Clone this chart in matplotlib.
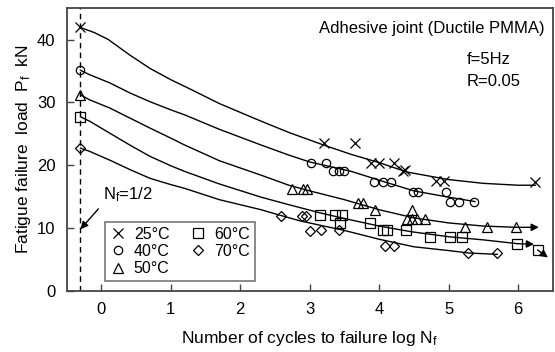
import numpy as np
import matplotlib.pyplot as plt

plt.rcParams['font.family'] = ['Liberation Sans', 'DejaVu Sans']
plt.rcParams['mathtext.default'] = 'regular'

# measured points (log Nf, Pf in kN)
x25 = [-0.30, 3.20, 3.65, 3.88, 4.00, 4.21, 4.34, 4.37, 4.82, 4.94, 6.25]
y25 = [42.0, 23.5, 23.5, 20.3, 20.3, 20.4, 19.0, 19.2, 17.4, 17.4, 17.3]

x40 = [-0.30, 3.02, 3.23, 3.34, 3.42, 3.50, 3.93, 4.05, 4.17, 4.49, 4.56, 4.96, 5.02, 5.15, 5.37]
y40 = [35.1, 20.3, 20.3, 19.0, 19.0, 19.0, 17.3, 17.3, 17.3, 15.8, 15.8, 15.8, 14.2, 14.2, 14.2]

x50 = [-0.30, 2.75, 2.91, 2.96, 3.69, 3.77, 3.94, 4.48, 4.40, 4.48, 4.55, 4.66, 5.24, 5.55, 5.97]
y50 = [31.2, 16.2, 16.2, 16.2, 13.9, 13.9, 12.8, 12.9, 11.5, 11.5, 11.5, 11.5, 10.1, 10.1, 10.1]

x60 = [-0.30, 3.15, 3.37, 3.47, 3.44, 3.87, 4.05, 4.12, 4.38, 4.73, 5.02, 5.20, 5.99, 6.28]
y60 = [27.7, 12.0, 12.0, 12.0, 10.8, 10.8, 9.7, 9.7, 9.7, 8.5, 8.5, 8.5, 7.5, 6.5]

x70 = [-0.30, 2.58, 2.89, 2.95, 3.00, 3.16, 3.42, 4.08, 4.21, 5.28, 5.70]
y70 = [22.7, 11.9, 11.9, 11.9, 9.5, 9.6, 9.6, 7.1, 7.1, 6.0, 6.0]

# fitted curves
c25_x = [-0.30, -0.1, 0.1, 0.4, 0.7, 1.0, 1.3, 1.7, 2.3, 2.7, 3.2, 3.6, 4.0, 4.4, 5.0, 5.5, 6.0, 6.25]
c25_y = [41.9, 41.1, 40.0, 37.6, 35.4, 33.6, 32.0, 29.8, 27.0, 25.2, 23.2, 21.7, 20.4, 18.9, 17.7, 17.1, 16.8, 16.8]

c40_x = [-0.30, -0.17, 0.12, 0.41, 0.70, 1.0, 1.2, 1.7, 2.3, 2.7, 3.0, 3.6, 4.0, 4.5, 5.0, 5.38]
c40_y = [35.1, 34.4, 33.1, 31.5, 30.1, 28.8, 28.0, 25.7, 23.2, 21.6, 20.5, 19.0, 17.6, 15.9, 14.9, 14.2]

c50_x = [-0.30, -0.17, 0.12, 0.41, 0.70, 1.0, 1.2, 1.7, 2.3, 2.7, 3.0, 3.5, 4.0, 4.5, 5.0, 5.5, 5.97]
c50_y = [31.2, 30.4, 29.1, 27.5, 25.9, 24.3, 23.2, 20.7, 18.4, 16.8, 15.9, 14.5, 12.9, 11.6, 10.8, 10.3, 10.1]

c60_x = [-0.30, -0.17, 0.12, 0.41, 0.70, 1.0, 1.2, 1.7, 2.3, 2.7, 3.15, 3.5, 4.0, 4.46, 5.0, 5.5, 5.99]
c60_y = [27.7, 27.0, 25.1, 23.2, 21.4, 19.9, 19.0, 17.0, 14.9, 13.7, 12.4, 11.5, 10.3, 9.4, 8.6, 8.1, 7.5]

c70_x = [-0.30, -0.17, 0.12, 0.41, 0.70, 1.0, 1.2, 1.7, 2.3, 2.58, 2.87, 3.5, 4.0, 4.5, 5.0, 5.3, 5.7]
c70_y = [22.7, 22.2, 20.8, 19.3, 17.9, 16.9, 16.3, 14.5, 12.9, 12.0, 11.1, 9.6, 8.2, 7.0, 6.4, 6.0, 5.8]

# run-outs (start x, start y, end x, end y)
runouts = [(5.97, 10.1, 6.30, 10.1),
           (5.99, 7.5, 6.23, 7.4),
           (6.28, 6.5, 6.43, 5.3)]

labels = ['25°C', '40°C', '50°C', '60°C', '70°C']
markers = ['x', 'o', '^', 's', 'D']
sizes = [7, 6, 6.5, 6.5, 5]

fig = plt.figure(figsize=(5.55, 3.52), dpi=100)
ax = fig.add_axes([0.120, 0.174, 0.876, 0.803])

for cx, cy in [(c25_x, c25_y), (c40_x, c40_y), (c50_x, c50_y), (c60_x, c60_y), (c70_x, c70_y)]:
    ax.plot(cx, cy, color='k', lw=1.0, zorder=2)

handles = []
for xs, ys, lab, m, s in zip([x25, x40, x50, x60, x70], [y25, y40, y50, y60, y70],
                             labels, markers, sizes):
    h, = ax.plot(xs, ys, ls='none', marker=m, ms=s, mfc='none', mec='k', mew=0.9,
                 label=lab, zorder=3)
    handles.append(h)

for x0, y0, x1, y1 in runouts:
    ax.annotate('', xy=(x1, y1), xytext=(x0, y0),
                arrowprops=dict(arrowstyle='-|>', color='k', lw=1.0,
                                mutation_scale=11, shrinkA=0, shrinkB=0))

# Nf = 1/2 line
ax.axvline(np.log10(0.5), color='k', ls=(0, (4, 3)), lw=1.0, zorder=1)
ax.annotate('N$_f$=1/2', xy=(np.log10(0.5), 9.8), xytext=(0.02, 15.3),
            fontsize=12, va='center', ha='left',
            arrowprops=dict(arrowstyle='-|>', color='k', lw=1.0, mutation_scale=11,
                            shrinkA=2, shrinkB=0, relpos=(0.0, 0.0)))

ax.text(6.38, 41.7, 'Adhesive joint (Ductile PMMA)', ha='right', va='center', fontsize=12)
ax.text(5.26, 36.8, 'f=5Hz', ha='left', va='center', fontsize=12)
ax.text(5.26, 33.3, 'R=0.05', ha='left', va='center', fontsize=12)

ax.set_xlim(-0.5, 6.5)
ax.set_ylim(0, 45)
ax.set_xticks(range(0, 7))
ax.set_yticks(range(0, 41, 10))
ax.tick_params(direction='in', length=5, width=1, colors='#444', labelcolor='k',
               labelsize=12, pad=8)
for sp in ax.spines.values():
    sp.set_color('#444')
    sp.set_linewidth(1.3)

ax.set_xlabel('Number of cycles to failure log N$_f$', fontsize=12.5, labelpad=9)
ax.set_ylabel('Fatigue failure  load  P$_f$  kN', fontsize=12.5, labelpad=3)

leg = ax.legend(handles=handles, ncol=2, loc='lower left', bbox_to_anchor=(0.079, 0.034),
                fontsize=11.5, frameon=True, fancybox=False, handlelength=1.0,
                handletextpad=0.5, columnspacing=1.3, labelspacing=0.15,
                borderpad=0.3, borderaxespad=0)
leg.get_frame().set_edgecolor('#555')
leg.get_frame().set_linewidth(1.2)

fig.savefig('out.png', dpi=100)
